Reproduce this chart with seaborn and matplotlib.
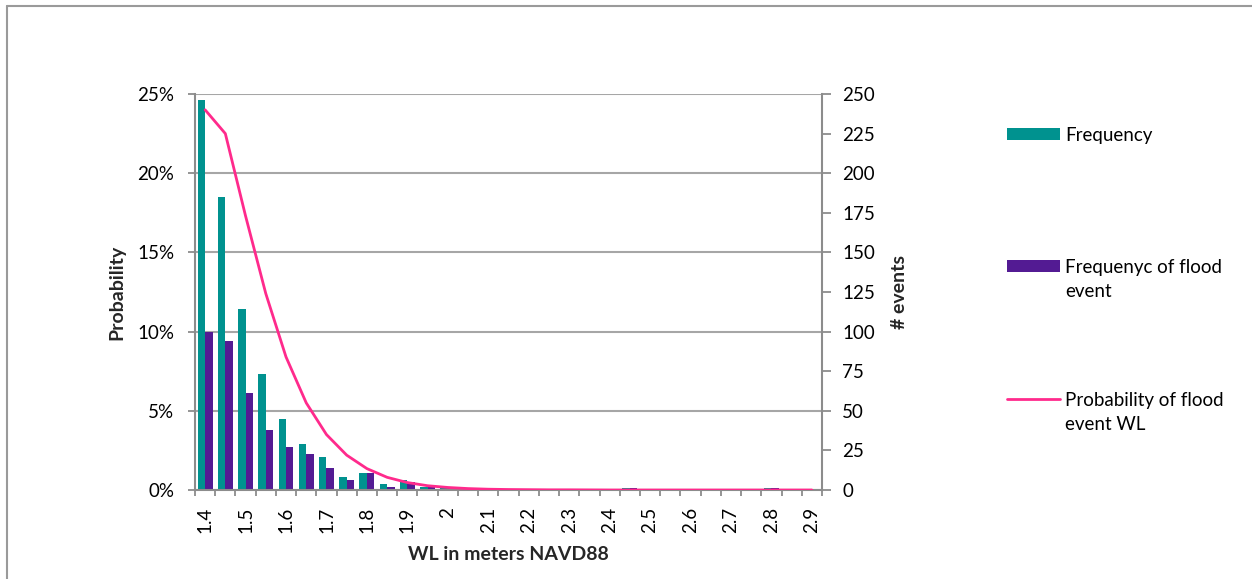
import numpy as np
import pandas as pd
import matplotlib
matplotlib.use("Agg")
import matplotlib.pyplot as plt
import seaborn as sns
from matplotlib.lines import Line2D
from matplotlib.patches import Rectangle
from matplotlib.ticker import MultipleLocator, FixedLocator, FuncFormatter

# ---------------- data ----------------
wl_levels = [1.40, 1.45, 1.50, 1.55, 1.60, 1.65, 1.70, 1.75, 1.80, 1.85,
             1.90, 1.95, 2.00, 2.05, 2.10, 2.15, 2.20, 2.25, 2.30, 2.35,
             2.40, 2.45, 2.50, 2.55, 2.60, 2.65, 2.70, 2.75, 2.80, 2.85, 2.90]
tick_labels = ["1.4", "1.5", "1.6", "1.7", "1.8", "1.9", "2", "2.1",
               "2.2", "2.3", "2.4", "2.5", "2.6", "2.7", "2.8", "2.9"]
frequency = [246, 185, 114, 73, 45, 29, 21, 8, 11, 4,
             6, 2, 1, 0, 0, 0, 0, 0, 0, 0,
             0, 1, 0, 0, 0, 0, 0, 0, 1, 0, 0]
flood_frequency = [100, 94, 61, 38, 27, 23, 14, 6, 11, 2,
                   5, 2, 1, 0, 0, 0, 0, 0, 0, 0,
                   0, 1, 0, 0, 0, 0, 0, 0, 1, 0, 0]
flood_probability = [0.240, 0.225, 0.173, 0.124, 0.084, 0.055, 0.035, 0.022, 0.0135, 0.008,
                     0.0047, 0.0027, 0.0016, 0.0009, 0.0005, 0.0003, 0.0002, 0.0001, 0.0001, 0.00005,
                     0.0, 0.0, 0.0, 0.0, 0.0, 0.0, 0.0, 0.0, 0.0, 0.0, 0.0]
series_names = ["Frequency", "Frequenyc of flood\nevent", "Probability of flood\nevent WL"]

TEAL = "#00928F"
PURPLE = "#531B93"
PINK = "#FF2A8C"
GRID = "#A6A6A6"
AXC = "#8C8C8C"

# ---------------- style ----------------
sns.set_theme(style="white")
plt.rcParams["font.family"] = ["Lato", "DejaVu Sans"]

W, H = 1252, 579
fig = plt.figure(figsize=(W / 100, H / 100), dpi=100)

# chart frame (extends beyond bottom/right of image)
fig.add_artist(Line2D([7 / W, 7 / W], [1 - 6 / H, -0.1], transform=fig.transFigure,
                      color="#9A9A9A", lw=1.5))
fig.add_artist(Line2D([7 / W, 1.1], [1 - 6 / H, 1 - 6 / H], transform=fig.transFigure,
                      color="#9A9A9A", lw=1.5))

left, right, top, bottom = 195, 822, 94, 490
ax_bar = fig.add_axes([left / W, 1 - bottom / H, (right - left) / W, (bottom - top) / H])
ax_line = ax_bar.twinx()

labels_str = [f"{v:.2f}" for v in wl_levels]
df_bar = pd.DataFrame({
    "wl": labels_str * 2,
    "count": frequency + flood_frequency,
    "series": [series_names[0]] * len(wl_levels) + [series_names[1]] * len(wl_levels),
})
sns.barplot(data=df_bar, x="wl", y="count", hue="series", order=labels_str,
            hue_order=series_names[:2], palette=[TEAL, PURPLE], saturation=1,
            width=0.74, linewidth=0, legend=False, ax=ax_bar)

df_line = pd.DataFrame({"pos": np.arange(len(wl_levels)), "prob": flood_probability})
sns.lineplot(data=df_line, x="pos", y="prob", color=PINK, lw=2.0, ax=ax_line)

# ---- axes limits ----
n = len(wl_levels)
ax_bar.set_xlim(-0.5, n - 0.5)
ax_bar.set_ylim(0, 250)
ax_line.set_ylim(0, 0.25)

# ---- put bar axis (# events) on the right, probability on the left ----
ax_bar.yaxis.tick_right()
ax_bar.yaxis.set_label_position("right")
ax_line.yaxis.tick_left()
ax_line.yaxis.set_label_position("left")

# grid behind bars
ax_bar.set_axisbelow(True)
ax_bar.yaxis.set_major_locator(MultipleLocator(50))
ax_bar.yaxis.set_minor_locator(MultipleLocator(25))
ax_bar.yaxis.set_minor_formatter(FuncFormatter(lambda v, p: f"{int(round(v))}"))
ax_bar.yaxis.set_major_formatter(FuncFormatter(lambda v, p: f"{int(round(v))}"))
ax_bar.grid(axis="y", which="major", color=GRID, lw=1.5)
ax_bar.grid(axis="x", visible=False)
ax_line.grid(False)

ax_line.yaxis.set_major_locator(MultipleLocator(0.05))
ax_line.yaxis.set_major_formatter(FuncFormatter(lambda v, p: f"{int(round(v * 100))}%"))

# x ticks: labels at every other category, tick marks at category boundaries
pos_labels = np.arange(0, n, 2)
ax_bar.xaxis.set_major_locator(FixedLocator(pos_labels))
ax_bar.set_xticklabels(tick_labels, rotation=90, va="top", ha="center")
ax_bar.xaxis.set_minor_locator(FixedLocator(np.arange(-0.5, n, 1)))

fs = 13.5
ax_bar.tick_params(axis="x", which="major", length=0, pad=12, labelsize=fs, labelcolor="black")
ax_bar.tick_params(axis="x", which="minor", length=4, width=1.3, color=AXC, direction="out", bottom=True)
ax_bar.tick_params(axis="y", which="both", length=6.5, width=1.3, color=AXC, direction="out",
                   pad=8, labelsize=fs, labelcolor="black", right=True, left=False,
                   labelright=True, labelleft=False)
ax_line.tick_params(axis="y", which="major", length=5, width=1.3, color=AXC, direction="out",
                    pad=10, labelsize=fs, labelcolor="black", left=True, right=False,
                    labelleft=True, labelright=False)

for s in ["left", "right", "bottom"]:
    ax_bar.spines[s].set_visible(True)
    ax_bar.spines[s].set_color(AXC)
    ax_bar.spines[s].set_linewidth(1.5)
ax_bar.spines["top"].set_visible(False)
for s in ax_line.spines.values():
    s.set_visible(False)

# axis labels
ax_bar.set_xlabel("WL in meters NAVD88", fontsize=14, fontweight="bold")
ax_bar.xaxis.set_label_coords(0.5, (bottom - 546) / (bottom - top))
ax_bar.set_ylabel("# events", fontsize=14, fontweight="bold", rotation=90)
ax_bar.yaxis.set_label_coords((900 - left) / (right - left), 0.5)
ax_line.set_ylabel("Probability", fontsize=14, fontweight="bold")
ax_line.yaxis.set_label_coords((117 - left) / (right - left), 0.5)
ax_line.set_xlabel("")
for lab in [ax_bar.yaxis.label, ax_line.yaxis.label]:
    lab.set_va("center")
    lab.set_ha("center")

# ---- legend (Excel style: handle aligned with first text line) ----
def fx(px):
    return px / W

def fy(py):
    return 1 - py / H

legend_y = [134, 266, 399]
for i, (name, ypix) in enumerate(zip(series_names, legend_y)):
    if i < 2:
        fig.add_artist(Rectangle((fx(1007), fy(ypix + 6)), fx(1060) - fx(1007), 12 / H,
                                 transform=fig.transFigure, color=[TEAL, PURPLE][i], lw=0))
    else:
        fig.add_artist(Line2D([fx(1007), fx(1060)], [fy(ypix), fy(ypix)],
                              transform=fig.transFigure, color=PINK, lw=2.0))
    fig.text(fx(1065), fy(ypix - 7), name, fontsize=fs, va="top", ha="left",
             linespacing=1.5, color="black")

fig.savefig("out.png", dpi=100, facecolor="white")
